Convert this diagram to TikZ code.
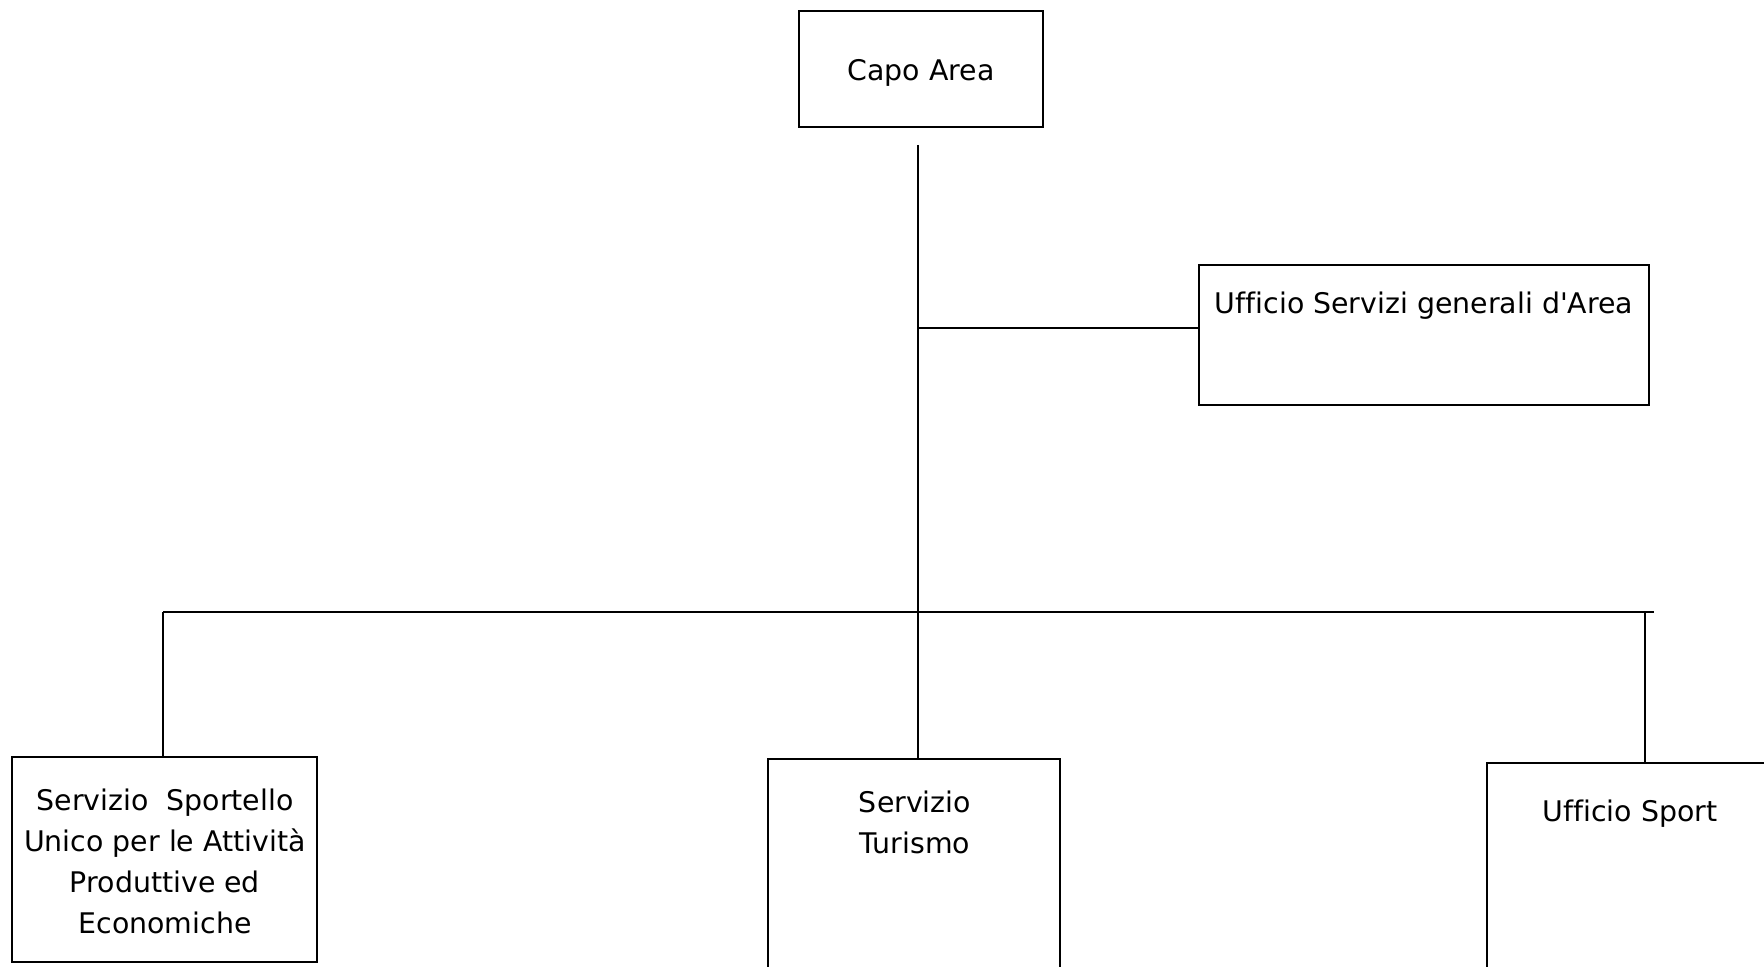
\documentclass[tikz,border=0pt]{standalone}
\usepackage{fontspec}
\setmainfont{DejaVu Sans}
% plain family: no TeX quote mapping, no ffi ligatures
\newfontfamily\labelfont[Ligatures=CommonOff]{DejaVu Sans}
\begin{document}
\begin{tikzpicture}[x=0.5pt,y=-0.5pt,
  box/.style={draw,line width=0.8pt,rectangle,inner sep=0pt},
  lbl/.style={font=\labelfont\fontsize{14.2}{20.5}\selectfont,align=center,inner sep=0pt},
  wire/.style={line width=1.2pt}]
\useasboundingbox (0,0) rectangle (1764,967);
\clip (0,0) rectangle (1764,967);
\fill[white] (0,0) rectangle (1764,967);

% boxes
\node[box,minimum width=244*0.5pt,minimum height=116*0.5pt] (capo) at (921,69) {};
\node[lbl] (capoT) at (921,73) {Capo Area};

\node[box,minimum width=450*0.5pt,minimum height=140*0.5pt] (usg) at (1424,335) {};
\node[lbl] (usgT) at (1424,306) {Ufficio Servizi generali d'Area};

\node[box,minimum width=305*0.5pt,minimum height=205*0.5pt] (ssu) at (164.5,859.5) {};
\node[lbl] (ssuT) at (165,861) {Servizio\ \ Sportello\\Unico per le Attività\\Produttive ed\\Economiche};

\node[box,minimum width=292*0.5pt,minimum height=240*0.5pt] (tur) at (914,879) {};
\node[lbl] (turT) at (915,822) {Servizio\\Turismo};

\node[box,minimum width=300*0.5pt,minimum height=240*0.5pt] (spo) at (1637,883) {};
\node[lbl] (spoT) at (1630,814) {Ufficio Sport};

% connectors
\coordinate (trunk) at (918,145);
\coordinate (side) at (918,328);
\coordinate (bus) at (918,612);
\coordinate (busL) at (163,612);
\coordinate (busR) at (1654,612);
\coordinate (dropR) at (1645,612);

\draw[wire] (trunk) -- (bus);
\draw[wire] (side) -- (side -| usg.west);
\draw[wire] (busL) -- (busR);
\draw[wire] (busL) -- (busL |- ssu.north);
\draw[wire] (bus) -- (bus |- tur.north);
\draw[wire] (dropR) -- (dropR |- spo.north);
\end{tikzpicture}
\end{document}
